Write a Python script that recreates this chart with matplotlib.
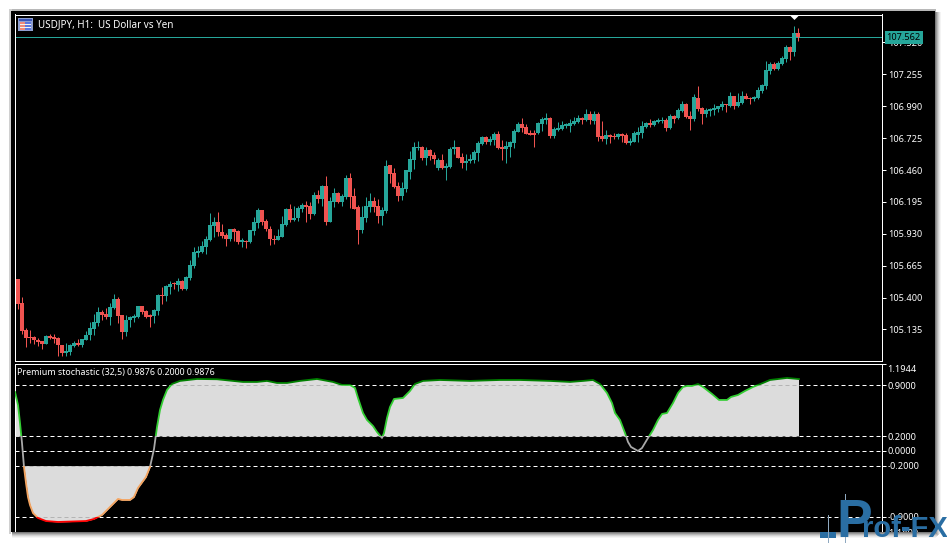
import numpy as np
import matplotlib
matplotlib.use('Agg')
import matplotlib.pyplot as plt
from matplotlib.patches import Rectangle
from matplotlib.path import Path

# USDJPY H1 candles
opens = [
    105.555, 105.355, 105.131, 105.073, 105.073, 105.048, 105.039, 105.014, 105.081, 105.073,
    105.064, 105.006, 104.940, 104.948, 104.998, 105.023, 105.006, 105.048, 105.089, 105.139,
    105.189, 105.280, 105.264, 105.239, 105.314, 105.388, 105.255, 105.114, 105.214, 105.231,
    105.239, 105.330, 105.289, 105.255, 105.247, 105.289, 105.422, 105.413, 105.488, 105.521,
    105.505, 105.538, 105.471, 105.563, 105.663, 105.771, 105.779, 105.821, 105.879, 105.995,
    106.028, 105.945, 105.920, 105.887, 105.970, 105.953, 105.862, 105.870, 105.862, 105.953,
    106.020, 106.128, 106.037, 105.970, 105.887, 105.879, 105.904, 106.003, 106.136, 106.045,
    106.062, 106.136, 106.170, 106.161, 106.095, 106.253, 106.219, 106.327, 106.028, 106.194,
    106.269, 106.194, 106.236, 106.394, 106.244, 106.153, 105.962, 106.062, 106.153, 106.203,
    106.161, 106.078, 106.120, 106.502, 106.435, 106.327, 106.244, 106.302, 106.444, 106.543,
    106.643, 106.652, 106.560, 106.627, 106.585, 106.477, 106.543, 106.477, 106.485, 106.635,
    106.652, 106.568, 106.518, 106.535, 106.543, 106.602, 106.677, 106.735, 106.693, 106.710,
    106.760, 106.652, 106.635, 106.652, 106.685, 106.776, 106.843, 106.818, 106.768, 106.768,
    106.768, 106.843, 106.876, 106.892, 106.743, 106.793, 106.801, 106.826, 106.826, 106.843,
    106.859, 106.892, 106.876, 106.926, 106.867, 106.926, 106.743, 106.718, 106.751, 106.743,
    106.735, 106.760, 106.751, 106.685, 106.693, 106.751, 106.768, 106.818, 106.851, 106.834,
    106.859, 106.867, 106.876, 106.809, 106.909, 106.892, 106.951, 107.009, 106.909, 106.884,
    107.059, 106.975, 106.926, 106.951, 106.959, 106.967, 106.984, 107.009, 106.992, 107.075,
    106.992, 107.017, 107.075, 107.059, 107.050, 107.059, 107.117, 107.158, 107.283, 107.341,
    107.300, 107.341, 107.383, 107.482, 107.441, 107.599,
]
closes = [
    105.347, 105.122, 105.064, 105.064, 105.048, 105.031, 105.014, 105.081, 105.064, 105.056,
    105.006, 104.940, 104.956, 105.006, 105.023, 105.006, 105.056, 105.089, 105.147, 105.197,
    105.280, 105.255, 105.239, 105.322, 105.388, 105.247, 105.114, 105.214, 105.239, 105.247,
    105.330, 105.280, 105.239, 105.239, 105.297, 105.422, 105.413, 105.496, 105.513, 105.513,
    105.538, 105.471, 105.571, 105.671, 105.779, 105.787, 105.829, 105.887, 106.003, 106.028,
    105.945, 105.912, 105.887, 105.970, 105.945, 105.862, 105.879, 105.862, 105.962, 106.028,
    106.128, 106.028, 105.970, 105.887, 105.879, 105.912, 106.012, 106.136, 106.045, 106.062,
    106.145, 106.170, 106.153, 106.095, 106.253, 106.219, 106.327, 106.028, 106.203, 106.269,
    106.194, 106.244, 106.394, 106.236, 106.136, 105.962, 106.070, 106.161, 106.203, 106.153,
    106.078, 106.128, 106.494, 106.427, 106.319, 106.244, 106.311, 106.460, 106.552, 106.652,
    106.652, 106.560, 106.627, 106.577, 106.552, 106.543, 106.477, 106.494, 106.635, 106.652,
    106.560, 106.518, 106.535, 106.552, 106.610, 106.685, 106.735, 106.693, 106.718, 106.760,
    106.643, 106.635, 106.660, 106.693, 106.784, 106.843, 106.809, 106.760, 106.751, 106.751,
    106.851, 106.884, 106.892, 106.743, 106.801, 106.809, 106.834, 106.843, 106.851, 106.867,
    106.892, 106.876, 106.926, 106.876, 106.926, 106.735, 106.718, 106.751, 106.735, 106.735,
    106.760, 106.743, 106.685, 106.701, 106.768, 106.776, 106.826, 106.851, 106.834, 106.867,
    106.876, 106.876, 106.809, 106.909, 106.884, 106.959, 107.009, 106.901, 106.884, 107.067,
    106.967, 106.926, 106.959, 106.967, 106.975, 106.992, 107.009, 107.000, 107.075, 106.992,
    107.025, 107.075, 107.050, 107.050, 107.067, 107.125, 107.167, 107.291, 107.341, 107.300,
    107.349, 107.391, 107.482, 107.441, 107.599, 107.562,
]
highs = [
    105.555, 105.405, 105.147, 105.131, 105.081, 105.064, 105.039, 105.089, 105.098, 105.098,
    105.073, 105.006, 105.023, 105.014, 105.039, 105.056, 105.056, 105.122, 105.197, 105.264,
    105.322, 105.297, 105.314, 105.355, 105.430, 105.405, 105.255, 105.255, 105.247, 105.264,
    105.330, 105.330, 105.297, 105.264, 105.305, 105.430, 105.488, 105.505, 105.538, 105.530,
    105.563, 105.546, 105.579, 105.712, 105.821, 105.829, 105.870, 105.912, 106.103, 106.070,
    106.111, 106.012, 105.937, 105.970, 105.978, 105.962, 105.895, 105.879, 105.962, 106.070,
    106.145, 106.128, 106.053, 105.995, 105.920, 105.970, 106.078, 106.145, 106.178, 106.161,
    106.161, 106.186, 106.203, 106.194, 106.278, 106.294, 106.336, 106.410, 106.236, 106.311,
    106.278, 106.261, 106.419, 106.435, 106.311, 106.170, 106.161, 106.236, 106.269, 106.236,
    106.219, 106.153, 106.543, 106.502, 106.477, 106.361, 106.361, 106.460, 106.618, 106.693,
    106.701, 106.660, 106.652, 106.635, 106.610, 106.560, 106.593, 106.518, 106.652, 106.710,
    106.652, 106.602, 106.593, 106.593, 106.627, 106.701, 106.743, 106.743, 106.743, 106.776,
    106.784, 106.710, 106.701, 106.701, 106.801, 106.859, 106.892, 106.843, 106.793, 106.793,
    106.859, 106.901, 106.934, 106.901, 106.818, 106.859, 106.867, 106.851, 106.884, 106.901,
    106.917, 106.901, 106.967, 106.951, 106.951, 106.942, 106.867, 106.793, 106.760, 106.768,
    106.768, 106.768, 106.768, 106.726, 106.784, 106.818, 106.867, 106.859, 106.884, 106.876,
    106.892, 106.901, 106.892, 106.926, 106.917, 106.975, 107.034, 107.017, 106.951, 107.092,
    107.158, 106.984, 106.975, 106.975, 107.009, 106.992, 107.034, 107.009, 107.108, 107.075,
    107.100, 107.117, 107.100, 107.067, 107.075, 107.150, 107.175, 107.366, 107.358, 107.358,
    107.366, 107.408, 107.499, 107.491, 107.657, 107.640,
]
lows = [
    105.305, 105.098, 104.990, 105.023, 105.014, 104.998, 104.973, 105.014, 105.056, 105.023,
    104.915, 104.915, 104.915, 104.923, 104.990, 104.998, 104.990, 105.048, 105.048, 105.089,
    105.164, 105.214, 105.222, 105.172, 105.305, 105.189, 105.056, 105.081, 105.156, 105.197,
    105.231, 105.264, 105.231, 105.156, 105.189, 105.255, 105.347, 105.372, 105.430, 105.471,
    105.455, 105.463, 105.463, 105.546, 105.646, 105.737, 105.771, 105.762, 105.870, 105.904,
    105.912, 105.895, 105.829, 105.870, 105.870, 105.845, 105.821, 105.812, 105.854, 105.920,
    105.978, 106.003, 105.953, 105.837, 105.845, 105.879, 105.904, 105.995, 106.028, 106.037,
    106.037, 106.111, 106.028, 106.053, 106.086, 106.186, 106.161, 106.003, 106.028, 106.153,
    106.186, 106.161, 106.219, 106.145, 106.136, 105.845, 105.937, 106.028, 106.111, 106.111,
    106.020, 106.003, 106.103, 106.352, 106.311, 106.203, 106.211, 106.278, 106.386, 106.469,
    106.627, 106.543, 106.502, 106.543, 106.510, 106.460, 106.469, 106.377, 106.477, 106.593,
    106.560, 106.477, 106.460, 106.518, 106.518, 106.535, 106.668, 106.677, 106.668, 106.668,
    106.635, 106.543, 106.518, 106.568, 106.643, 106.776, 106.776, 106.760, 106.751, 106.652,
    106.760, 106.784, 106.843, 106.726, 106.726, 106.784, 106.793, 106.809, 106.776, 106.834,
    106.851, 106.843, 106.867, 106.843, 106.843, 106.701, 106.701, 106.677, 106.685, 106.718,
    106.718, 106.693, 106.677, 106.668, 106.693, 106.693, 106.726, 106.809, 106.818, 106.826,
    106.851, 106.851, 106.784, 106.801, 106.851, 106.884, 106.942, 106.892, 106.793, 106.867,
    106.951, 106.843, 106.901, 106.909, 106.917, 106.942, 106.959, 106.942, 106.984, 106.967,
    106.984, 107.009, 107.050, 107.009, 107.034, 107.050, 107.100, 107.133, 107.258, 107.291,
    107.291, 107.333, 107.358, 107.374, 107.408, 107.532,
]
price_ticks = [107.520, 107.255, 106.990, 106.725, 106.460, 106.195, 105.930, 105.665, 105.400, 105.135]
last_price = 107.562

# Premium stochastic (32,5), bar number and value
stoch_bars = [
    -0.75, 0, 0.5, 1, 1.5, 2, 2.5, 3, 3.75, 5, 7, 10, 17, 19, 21, 23, 25, 26, 28, 29, 30, 32, 33, 34,
    34.75, 35.5, 36.25, 37.25, 38.5, 40.5, 44.75, 49.75, 53.75, 56.25, 59.75, 62.25, 64.75, 67.25,
    70.5, 74.75, 78.75, 81, 83, 84.25, 85, 86.25, 87.25, 88.75, 89.75, 91, 91.5, 92.25, 93, 94,
    96.25, 98, 99.25, 101.25, 105.5, 113, 120.5, 125.5, 133, 138, 141.25, 143.75, 145.5, 147.25,
    148.5, 149.25, 150.5, 151.75, 152.5, 153.25, 155, 156, 157.5, 158.75, 160, 161, 162.25, 163.75,
    165, 166.25, 167.25, 168.5, 170, 171.25, 173.5, 175.25, 177.25, 178.25, 180, 181.75, 183.75,
    186.25, 188, 192.25, 195.25,
]
stoch_vals = [
    0.810, 0.632, 0.385, 0.110, -0.220, -0.440, -0.632, -0.742, -0.852, -0.920, -0.962, -0.975,
    -0.962, -0.934, -0.879, -0.769, -0.659, -0.673, -0.673, -0.632, -0.508, -0.357, -0.220, 0.027,
    0.330, 0.563, 0.701, 0.838, 0.920, 0.962, 0.989, 0.985, 0.962, 0.948, 0.948, 0.962, 0.934, 0.934,
    0.962, 0.989, 0.948, 0.907, 0.907, 0.865, 0.728, 0.522, 0.426, 0.343, 0.261, 0.179, 0.247, 0.453,
    0.604, 0.714, 0.728, 0.824, 0.920, 0.962, 0.975, 0.962, 0.975, 0.975, 0.962, 0.948, 0.962, 0.975,
    0.920, 0.797, 0.659, 0.522, 0.426, 0.247, 0.124, 0.055, 0.000, 0.041, 0.179, 0.288, 0.426, 0.508,
    0.522, 0.659, 0.797, 0.879, 0.893, 0.893, 0.920, 0.879, 0.783, 0.701, 0.701, 0.742, 0.769, 0.824,
    0.879, 0.934, 0.975, 1.003, 0.9876,
]
stoch_levels = [0.9, 0.2, 0.0, -0.2, -0.9]
stoch_labels = ['0.9000', '0.2000', '0.0000', '-0.2000', '-0.9000']

W, H = 947, 544
GREEN = '#26A69A'
RED = '#EF5350'
TXT = 'Noto Sans'


def px_axes(x0, y0, x1, y1):
    ax = fig.add_axes([x0 / W, 1 - y1 / H, (x1 - x0) / W, (y1 - y0) / H])
    ax.set_facecolor('black')
    for s in ax.spines.values():
        s.set_color('white')
        s.set_linewidth(0.72)
    ax.set_xticks([])
    ax.yaxis.tick_right()
    ax.tick_params(axis='y', colors='white', length=3, width=0.72, pad=1.5, labelsize=6.6)
    return ax


def strip(x, y, w, h, col, z=1):
    fig.add_artist(Rectangle((x / W, 1 - (y + h) / H), w / W, h / H, transform=fig.transFigure,
                             facecolor=col, edgecolor='none', zorder=z))


fig = plt.figure(figsize=(W / 100, H / 100), dpi=100, facecolor='white')

# window: soft shadow and black client area
strip(9, 9, 927, 3, '#b8b8b8', z=-2)
strip(9, 9, 3, 525, '#d0d0d0', z=-2)
strip(11, 11, 924, 521, 'black', z=-1)

bars = np.arange(len(opens))
xlim = ((14.5 - 18) / 4, (881.5 - 18) / 4)
o, c, hi, lo = map(np.array, (opens, closes, highs, lows))
up = c >= o
colors = np.where(up, GREEN, RED)

# price panel
ax = px_axes(14.5, 14.5, 881.5, 361)
ax.set_xlim(*xlim)
ax.set_ylim(104.873, 107.7525)
wicks = ax.vlines(bars, lo, hi, colors=colors, linewidth=0.72, zorder=2)
wicks.set_snap(True)
ax.bar(bars, np.abs(c - o), bottom=np.minimum(o, c), width=0.8, color=colors, linewidth=0, zorder=3)
ax.axhline(last_price, color=GREEN, lw=0.72, zorder=1)
# flat arrow on the top border, above the highest bar
ax.plot([bars[-2]], [107.733], marker=[(-1, 0.5), (1, 0.5), (0, -0.5)], ms=7.2, color='white',
        mew=0, clip_on=False, zorder=5)
ax.set_yticks(price_ticks)
ax.set_yticklabels([f'{t:.3f}' for t in price_ticks], family=TXT, fontsize=6.6)
ax.annotate(f'{last_price:.3f}', xy=(1, last_price), xycoords=ax.get_yaxis_transform(),
            xytext=(3.6, 0), textcoords='offset points', va='center', ha='left', color='black',
            family=TXT, fontsize=6.6, annotation_clip=False, zorder=6,
            bbox=dict(boxstyle='square,pad=0.2', fc=GREEN, ec='none'))

# oscillator panel
low_lim = (451 - 532) / 72.8
top_lim = 1.1944
ax2 = px_axes(14.5, 364, 881.5, 532)
ax2.spines['bottom'].set_visible(False)
ax2.set_xlim(*xlim)
ax2.set_ylim(low_lim, top_lim)
sb, sv = np.array(stoch_bars), np.array(stoch_vals)
dash = (0, (4, 3))
ax2.hlines(stoch_levels, *xlim, colors='white', linestyles=[dash], linewidth=0.72, zorder=1)
fills = [
    ax2.fill_between(sb, sv, 0.2, where=sv >= 0.2, interpolate=True, color='#DCDCDC', lw=0, zorder=2),
    ax2.fill_between(sb, sv, -0.2, where=sv <= -0.2, interpolate=True, color='#DCDCDC', lw=0, zorder=2),
]
# dashes show through the fill as a darker grey
fill_path = Path.make_compound_path(*[p for f in fills for p in f.get_paths()])
inner = ax2.hlines(stoch_levels, *xlim, colors='#b4b4b4', linestyles=[dash], linewidth=0.72, zorder=3)
inner.set_clip_path(fill_path, ax2.transData)
# colour of the line depends on the zone it is in
zones = [(0.9, top_lim, '#008000'), (0.2, 0.9, '#32CD32'), (-0.2, 0.2, '#A9A9A9'),
         (-0.9, -0.2, '#F4A460'), (low_lim, -0.9, '#FF0000')]
for z0, z1, col in zones:
    ln, = ax2.plot(sb, sv, color=col, lw=1.3, zorder=4, solid_joinstyle='round')
    ln.set_clip_path(Rectangle((xlim[0], z0), xlim[1] - xlim[0], z1 - z0, transform=ax2.transData))
ax2.set_yticks([top_lim] + stoch_levels)
ax2.set_yticklabels([''] + stoch_labels, family=TXT, fontsize=6.6)
fig.text(887 / W, 1 - 369 / H, '1.1944', color='white', family=TXT, fontsize=6.6, va='center')
fig.text(887 / W, 1 - 533 / H, '-1.1800', color='white', family=TXT, fontsize=6.6, va='center', zorder=0.5)

# margin below and right of the window, covers the clipped label
strip(11, 532, 936, 12, 'white', z=1)
strip(936, 0, 11, 544, 'white', z=1)
for i, g in enumerate(['#7a7a7a', '#9a9a9a', '#b8b8b8', '#d2d2d2', '#e6e6e6', '#f4f4f4']):
    strip(935 + i, 12, 1, 521 + 5 - i, g, z=1.1)
    strip(12, 532 + i, 923 + 6 - i, 1, g, z=1.1)

# chart captions and symbol icon
fig.text(38 / W, 1 - 24.5 / H, 'USDJPY, H1:  US Dollar vs Yen', color='white', family=TXT, fontsize=7.1, va='center')
fig.text(17 / W, 1 - 372 / H, 'Premium stochastic (32,5) 0.9876 0.2000 0.9876', color='white',
         family=TXT, fontsize=6.4, va='center')
strip(18, 18, 15, 13, '#8f9fd0', z=3)
strip(19, 19, 13, 2, '#3a55b8', z=3.1)
strip(20, 22, 5, 8, '#ef8a78', z=3.1)
strip(25, 22, 6, 8, '#5a78e0', z=3.1)
for yy in (24, 27):
    strip(20, yy, 11, 1, '#f2f2f2', z=3.2)

# watermark
wm = '#2a6ea3'
strip(820, 532, 16, 6, wm, z=4)
strip(828, 515, 1, 28, '#8fa9c0', z=4)
strip(845, 494, 1, 49, '#8fa9c0', z=4)
fig.text(836 / W, 1 - 537 / H, 'P', color=wm, family='Liberation Sans', weight='bold', fontsize=38.5, va='baseline', zorder=5)
fig.text(862 / W, 1 - 537 / H, 'rof-FX', color=wm, family='Liberation Sans', weight='bold', fontsize=21, va='baseline', zorder=5)

fig.savefig('out.png', dpi=100, facecolor='white')
